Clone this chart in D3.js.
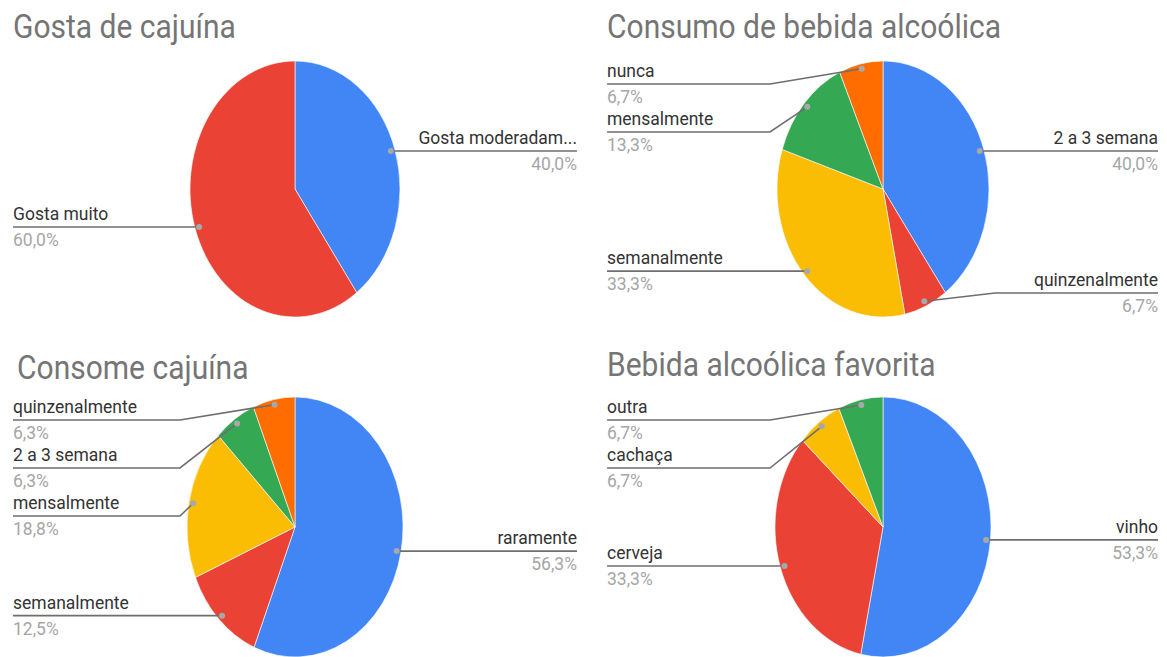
<!DOCTYPE html>
<html>
<head>
<meta charset="utf-8">
<script src="https://cdn.jsdelivr.net/npm/d3@7"></script>
<style>
  html, body { margin: 0; padding: 0; background: #ffffff; }
  svg { display: block; font-family: Roboto, "Noto Sans", Arial, sans-serif; }
</style>
</head>
<body>
<svg id="chart" width="1167" height="657"></svg>
<script>
// Survey answers, in percent of respondents
const gostaTitle = "Gosta de cajuína";
const gostaCats = ["Gosta moderadamente", "Gosta muito"];
const gostaVals = [40.0, 60.0];

const consumoTitle = "Consumo de bebida alcoólica";
const consumoCats = ["2 a 3 semana", "quinzenalmente", "semanalmente", "mensalmente", "nunca"];
const consumoVals = [40.0, 6.7, 33.3, 13.3, 6.7];

const consomeTitle = "Consome cajuína";
const consomeCats = ["raramente", "semanalmente", "mensalmente", "2 a 3 semana", "quinzenalmente"];
const consomeVals = [56.3, 12.5, 18.8, 6.3, 6.3];

const favoritaTitle = "Bebida alcoólica favorita";
const favoritaCats = ["vinho", "cerveja", "cachaça", "outra"];
const favoritaVals = [53.3, 33.3, 6.7, 6.7];

const sliceColors = ["#4285F4", "#EA4335", "#FBBC04", "#34A853", "#FF6D01"];

// Panel layout
const panels = [
  { title: gostaTitle, cats: gostaCats, vals: gostaVals,
    titleX: 13, titleY: 38, cx: 295, cy: 189, rx: 105, ry: 128,
    leftX: 13, rightX: 577, bendL: 180, bendR: 405, minY: 84, maxY: 293 },
  { title: consumoTitle, cats: consumoCats, vals: consumoVals,
    titleX: 607, titleY: 38, cx: 883, cy: 189, rx: 106, ry: 128,
    leftX: 607, rightX: 1158, bendL: 770, bendR: 995, minY: 84, maxY: 293 },
  { title: consomeTitle, cats: consomeCats, vals: consomeVals,
    titleX: 17, titleY: 379, cx: 295, cy: 527, rx: 108, ry: 130,
    leftX: 13, rightX: 577, bendL: 180, bendR: 405, minY: 420, maxY: 629 },
  { title: favoritaTitle, cats: favoritaCats, vals: favoritaVals,
    titleX: 607, titleY: 376, cx: 883, cy: 527, rx: 108, ry: 130,
    leftX: 607, rightX: 1158, bendL: 770, bendR: 995, minY: 420, maxY: 629 }
];

const SY = 1.08;          // slight vertical stretch of the lettering
const R = 100;            // base radius, stretched into an ellipse per panel
const GAP = 48;           // minimum spacing between stacked labels
const fmt = v => v.toFixed(1).replace(".", ",") + "%";

const svg = d3.select("#chart");
const pie = d3.pie().sort(null).value(d => d.v);
const arc = d3.arc().innerRadius(0).outerRadius(R);

function addText(g, x, y, s, size, color, anchor) {
  return g.append("text")
    .attr("transform", `translate(${x},${y}) scale(1,${SY})`)
    .attr("font-size", size)
    .attr("fill", color)
    .attr("text-anchor", anchor)
    .text(s);
}

function fitText(node, full, maxW) {
  node.text(full);
  if (node.node().getComputedTextLength() <= maxW) return;
  let s = full;
  while (s.length > 1) {
    s = s.slice(0, -1);
    node.text(s + "...");
    if (node.node().getComputedTextLength() <= maxW) return;
  }
}

panels.forEach(p => {
  const g = svg.append("g");
  const data = p.cats.map((c, i) => ({ c, v: p.vals[i], i }));
  const arcs = pie(data);

  addText(g, p.titleX, p.titleY, p.title, 30, "#757575", "start");

  const pg = g.append("g")
    .attr("transform", `translate(${p.cx},${p.cy}) scale(${p.rx / R},${p.ry / R})`);
  pg.selectAll("path")
    .data(arcs)
    .join("path")
    .attr("d", arc)
    .attr("fill", d => sliceColors[d.data.i])
    .attr("stroke", "#ffffff")
    .attr("stroke-width", 0.6)
    .attr("vector-effect", "non-scaling-stroke");

  // anchor point of each leader line, inside the slice
  const items = arcs.map(a => {
    const m = (a.startAngle + a.endAngle) / 2;
    const dx = p.cx + p.rx * 0.96 * Math.sin(m);
    const dy = p.cy - p.ry * 0.96 * Math.cos(m);
    return { a, dx, dy, right: dx > p.cx };
  });

  ["left", "right"].forEach(side => {
    const list = items.filter(d => (side === "right") === d.right)
      .sort((a, b) => a.dy - b.dy);
    let prev = -Infinity;
    list.forEach(d => {
      let y = Math.min(Math.max(d.dy, p.minY), p.maxY);
      y = Math.max(y, prev + GAP);
      d.ly = y;
      prev = y;
    });
    list.forEach(d => {
      const x0 = side === "right" ? p.rightX : p.leftX;
      const bend = side === "right" ? p.bendR : p.bendL;
      const anchor = side === "right" ? "end" : "start";
      g.append("path")
        .attr("d", `M${x0},${d.ly}H${bend}L${d.dx},${d.dy}`)
        .attr("fill", "none")
        .attr("stroke", "#6e6e6e")
        .attr("stroke-width", 1.6);
      g.append("circle")
        .attr("cx", d.dx).attr("cy", d.dy).attr("r", 3)
        .attr("fill", "#a8a8a8");
      const t = addText(g, x0, d.ly - 7, d.a.data.c, 17.5, "#333333", anchor);
      fitText(t, d.a.data.c, 165);
      addText(g, x0, d.ly + 19, fmt(d.a.data.v), 17.5, "#a6a6a6", anchor);
    });
  });
});
</script>
</body>
</html>
